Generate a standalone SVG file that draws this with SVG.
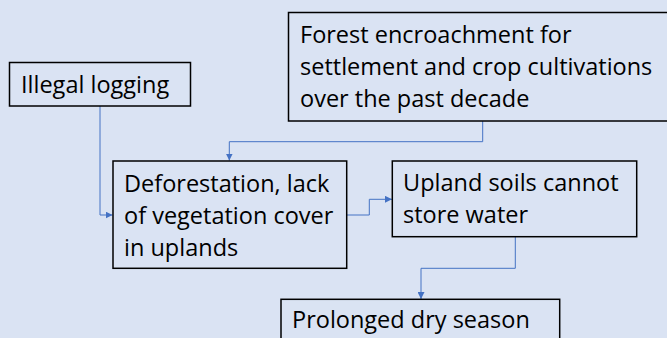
<svg xmlns="http://www.w3.org/2000/svg" width="667" height="338" viewBox="0 0 667 338">
<style>
.box{fill:#DAE3F3;stroke:#000;stroke-width:1.5}
.t{font-family:"Open Sans","Liberation Sans",sans-serif;font-size:23.5px;fill:#000}
.c{fill:none;stroke:#4472C4;stroke-width:1}
</style>
<defs>
<marker id="ah" viewBox="0 0 10 10" refX="10" refY="5" markerWidth="7" markerHeight="7" markerUnits="userSpaceOnUse" orient="auto">
<path d="M0,0 L10,5 L0,10 z" fill="#4472C4"/>
</marker>
</defs>
<rect width="667" height="338" fill="#DAE3F3"/>
<g id="connectors">
<path class="c" d="M100,106 V215 H112.5" marker-end="url(#ah)"/>
<path class="c" d="M482.7,121 V141.7 H229.3 V160.5" marker-end="url(#ah)"/>
<path class="c" d="M347,215 H369.3 V199.3 H392" marker-end="url(#ah)"/>
<path class="c" d="M515.3,237 V268.3 H421 V299" marker-end="url(#ah)"/>
</g>
<g id="illegal">
<rect class="box" x="9.5" y="62.5" width="181" height="43.5"/>
<text class="t" x="21" y="93">Illegal logging</text>
</g>
<g id="forest">
<rect class="box" x="288.5" y="12.5" width="385" height="108.5"/>
<text class="t" x="300" y="43">Forest encroachment for</text>
<text class="t" x="300" y="75">settlement and crop cultivations</text>
<text class="t" x="300" y="107">over the past decade</text>
</g>
<g id="deforestation">
<rect class="box" x="113" y="161" width="233.7" height="107.3"/>
<text class="t" x="124" y="192">Deforestation, lack</text>
<text class="t" x="124" y="224">of vegetation cover</text>
<text class="t" x="124" y="256">in uplands</text>
</g>
<g id="upland">
<rect class="box" x="392.3" y="161" width="244.4" height="75.7"/>
<text class="t" x="403" y="191">Upland soils cannot</text>
<text class="t" x="403" y="223">store water</text>
</g>
<g id="prolonged">
<rect class="box" x="281" y="299.3" width="278.7" height="50"/>
<text class="t" x="292" y="328">Prolonged dry season</text>
</g>
</svg>
